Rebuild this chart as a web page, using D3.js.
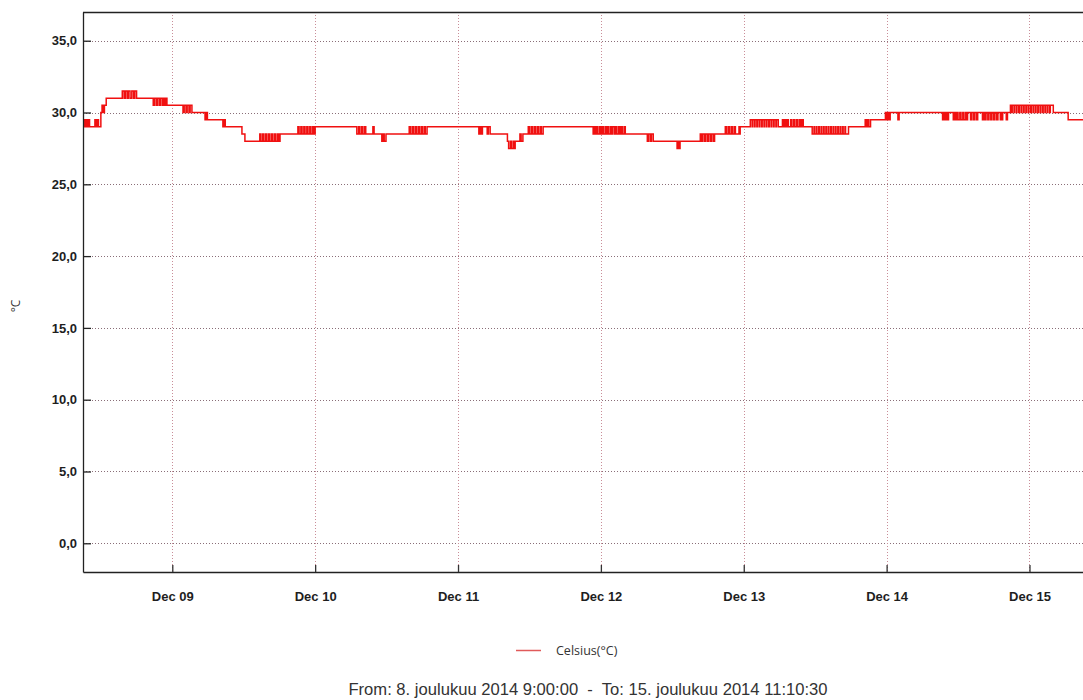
<!DOCTYPE html>
<html>
<head>
<meta charset="utf-8">
<script src="https://cdn.jsdelivr.net/npm/d3@7"></script>
<style>
  html, body { margin: 0; padding: 0; background: #fff; overflow: hidden; }
  svg { display: block; }
</style>
</head>
<body>
<svg id="chart" width="1083" height="700"></svg>
<script>
// Logged period
const startTime = new Date(2014, 11, 8, 9, 0, 0);
const endTime = new Date(2014, 11, 15, 11, 10, 30);

// Temperature readings: [hours since start, °C]; each value holds until the next reading
const readings = [
  [0.0,29.5],[0.3,29.0],[0.5,29.5],[0.7,29.0],[0.9,29.5],[1.1,29.0],
  [2.0,29.5],[2.2,29.0],[2.4,29.5],[2.6,29.0],
  [3.0,30.0],[3.2,30.5],[3.4,30.0],[3.6,30.5],[3.9,31.0],
  [6.6,31.5],[6.9,31.0],[7.1,31.5],[7.4,31.0],[7.6,31.5],[7.9,31.0],[8.2,31.5],[8.5,31.0],[8.7,31.5],[9.0,31.0],
  [11.8,30.5],[12.0,31.0],[12.3,30.5],[12.5,31.0],[12.8,30.5],[13.0,31.0],[13.3,30.5],[13.5,31.0],[13.7,30.5],[13.9,31.0],[14.1,30.5],
  [16.8,30.0],[17.0,30.5],[17.3,30.0],[17.5,30.5],[17.8,30.0],[18.0,30.5],[18.3,30.0],
  [20.5,29.5],[20.7,30.0],[20.9,29.5],
  [23.5,29.0],[23.7,29.5],[23.9,29.0],
  [26.7,28.5],[27.2,28.0],
  [29.7,28.5],[29.9,28.0],[30.2,28.5],[30.4,28.0],[30.7,28.5],[30.9,28.0],[31.2,28.5],[31.4,28.0],[31.7,28.5],[31.9,28.0],[32.2,28.5],[32.4,28.0],[32.7,28.5],[32.9,28.0],[33.1,28.5],
  [36.1,29.0],[36.3,28.5],[36.6,29.0],[36.8,28.5],[37.1,29.0],[37.3,28.5],[37.6,29.0],[37.8,28.5],[38.1,29.0],[38.3,28.5],[38.6,29.0],[38.8,28.5],[39.0,29.0],
  [46.0,28.5],[46.3,29.0],[46.5,28.5],[46.8,29.0],[47.0,28.5],[47.3,29.0],[47.5,28.5],
  [48.7,29.0],[48.9,28.5],
  [50.2,28.0],[50.4,28.5],[50.6,28.0],[50.9,28.5],
  [54.8,29.0],[55.0,28.5],[55.3,29.0],[55.5,28.5],[55.8,29.0],[56.0,28.5],[56.3,29.0],[56.5,28.5],[56.8,29.0],[57.0,28.5],[57.3,29.0],[57.5,28.5],[57.8,29.0],
  [66.5,28.5],[66.7,29.0],[66.9,28.5],[67.1,29.0],
  [67.9,28.5],[68.1,29.0],[68.4,28.5],
  [71.3,28.0],[71.5,27.5],[71.8,28.0],[72.0,27.5],[72.3,28.0],[72.4,27.5],[72.6,28.0],
  [73.4,28.5],[73.6,28.0],[73.9,28.5],
  [74.8,29.0],[75.0,28.5],[75.3,29.0],[75.5,28.5],[75.8,29.0],[76.0,28.5],[76.3,29.0],[76.5,28.5],[76.8,29.0],[77.0,28.5],[77.3,29.0],
  [85.7,28.5],[85.9,29.0],[86.1,28.5],[86.3,29.0],[86.5,28.5],[86.8,29.0],[87.0,28.5],[87.2,29.0],[87.4,28.5],[87.7,29.0],[87.9,28.5],[88.1,29.0],[88.3,28.5],[88.6,29.0],[88.8,28.5],[89.0,29.0],[89.3,28.5],[89.5,29.0],[89.7,28.5],[90.0,29.0],[90.2,28.5],[90.4,29.0],[90.6,28.5],[90.9,29.0],[91.1,28.5],
  [94.8,28.0],[95.0,28.5],[95.3,28.0],[95.5,28.5],[95.8,28.0],
  [99.8,27.5],[100.0,28.0],[100.1,27.5],[100.3,28.0],
  [103.7,28.5],[103.9,28.0],[104.1,28.5],[104.4,28.0],[104.6,28.5],[104.9,28.0],[105.1,28.5],[105.4,28.0],[105.6,28.5],[105.9,28.0],[106.1,28.5],
  [107.9,29.0],[108.1,28.5],[108.4,29.0],[108.6,28.5],[108.9,29.0],[109.1,28.5],[109.4,29.0],[109.6,28.5],[110.2,29.0],[110.3,28.5],[110.4,29.0],
  [112.1,29.5],[112.4,29.0],[112.5,29.5],[112.8,29.0],[112.9,29.5],[113.2,29.0],[113.3,29.5],[113.6,29.0],[113.7,29.5],[114.0,29.0],[114.1,29.5],[114.4,29.0],[114.5,29.5],[114.8,29.0],[114.9,29.5],[115.2,29.0],[115.3,29.5],[115.6,29.0],[115.7,29.5],[116.0,29.0],[116.1,29.5],[116.4,29.0],[116.5,29.5],[116.8,29.0],
  [117.5,29.5],[117.7,29.0],[117.9,29.5],[118.1,29.0],[118.3,29.5],[118.5,29.0],
  [118.9,29.5],[119.1,29.0],[119.4,29.5],[119.6,29.0],[119.9,29.5],[120.1,29.0],[120.4,29.5],[120.6,29.0],[120.8,29.5],[121.0,29.0],
  [122.5,28.5],[122.8,29.0],[122.9,28.5],[123.2,29.0],[123.3,28.5],[123.6,29.0],[123.7,28.5],[124.0,29.0],[124.1,28.5],[124.4,29.0],[124.5,28.5],[124.8,29.0],[124.9,28.5],[125.2,29.0],[125.3,28.5],[125.6,29.0],[125.7,28.5],[126.0,29.0],[126.1,28.5],[126.4,29.0],[126.5,28.5],[126.8,29.0],[126.9,28.5],[127.2,29.0],[127.3,28.5],[127.6,29.0],[127.7,28.5],[128.0,29.0],[128.1,28.5],[128.6,29.0],
  [131.4,29.5],[131.6,29.0],[131.8,29.5],[132.0,29.0],[132.3,29.5],
  [134.8,30.0],[135.0,29.5],[135.2,30.0],[135.4,29.5],[135.6,30.0],[136.9,29.5],[137.1,30.0],
  [144.4,29.5],[144.6,30.0],[144.8,29.5],[145.0,30.0],[145.2,29.5],[145.4,30.0],
  [146.2,29.5],[146.4,30.0],[146.6,29.5],[146.8,30.0],[147.0,29.5],[147.3,30.0],[147.5,29.5],[147.8,30.0],[148.0,29.5],[148.3,30.0],[148.5,29.5],[148.6,30.0],
  [149.1,29.5],[149.3,30.0],[149.6,29.5],[149.8,30.0],[150.1,29.5],[150.3,30.0],
  [151.1,29.5],[151.3,30.0],[151.5,29.5],[151.7,30.0],[152.0,29.5],[152.2,30.0],[152.5,29.5],[152.7,30.0],[153.0,29.5],[153.2,30.0],[153.5,29.5],[153.7,30.0],[154.1,29.5],[154.2,30.0],[154.4,29.5],[154.5,30.0],
  [155.1,29.5],[155.3,30.0],
  [155.8,30.5],[156.0,30.0],[156.1,30.5],[156.4,30.0],[156.5,30.5],[156.8,30.0],[156.9,30.5],[157.2,30.0],[157.3,30.5],[157.6,30.0],[157.7,30.5],[158.0,30.0],[158.1,30.5],[158.4,30.0],[158.5,30.5],[158.8,30.0],[158.9,30.5],[159.2,30.0],[159.3,30.5],[159.6,30.0],[159.7,30.5],[160.0,30.0],[160.1,30.5],[160.4,30.0],[160.5,30.5],[160.8,30.0],[160.9,30.5],[161.2,30.0],[161.3,30.5],[161.6,30.0],[161.7,30.5],[162.0,30.0],[162.1,30.5],[162.4,30.0],[162.5,30.5],[163.0,30.0],
  [165.5,29.5],[170.175,29.5]
];

// Axis ticks
const yTicks = [0, 5, 10, 15, 20, 25, 30, 35];
const dayTicks = [
  new Date(2014, 11, 9), new Date(2014, 11, 10), new Date(2014, 11, 11),
  new Date(2014, 11, 12), new Date(2014, 11, 13), new Date(2014, 11, 14),
  new Date(2014, 11, 15)
];
const dayLabels = ["Dec 09", "Dec 10", "Dec 11", "Dec 12", "Dec 13", "Dec 14", "Dec 15"];

const seriesName = "Celsius(°C)";
const yTitle = "°C";
const footer = "From: 8. joulukuu 2014 9:00:00  -  To: 15. joulukuu 2014 11:10:30";

// Layout
const plot = { left: 83, top: 12, right: 1096, bottom: 572 };

const svg = d3.select("#chart");

const x = d3.scaleTime().domain([startTime, endTime]).range([plot.left, plot.right]);
const y = d3.scaleLinear().domain([-2, 37]).range([plot.bottom, plot.top]);

const series = readings.map(([h, v]) => ({ t: new Date(startTime.getTime() + h * 3600000), v }));

svg.append("defs").append("clipPath").attr("id", "plotClip")
  .append("rect")
  .attr("x", plot.left).attr("y", plot.top)
  .attr("width", plot.right - plot.left).attr("height", plot.bottom - plot.top);

// Horizontal grid
svg.append("g").selectAll("line").data(yTicks).join("line")
  .attr("x1", plot.left).attr("x2", plot.right)
  .attr("y1", d => Math.round(y(d)) + 0.5).attr("y2", d => Math.round(y(d)) + 0.5)
  .attr("stroke", "#8a6e78").attr("stroke-width", 1)
  .attr("stroke-dasharray", "1,2");

// Vertical grid
svg.append("g").selectAll("line").data(dayTicks).join("line")
  .attr("x1", d => Math.round(x(d)) + 0.5).attr("x2", d => Math.round(x(d)) + 0.5)
  .attr("y1", plot.top).attr("y2", plot.bottom)
  .attr("stroke", "#c98d98").attr("stroke-width", 1)
  .attr("stroke-dasharray", "1,2");

// Temperature trace
svg.append("path")
  .datum(series)
  .attr("clip-path", "url(#plotClip)")
  .attr("fill", "none")
  .attr("stroke", "#f01010")
  .attr("stroke-width", 1.5)
  .attr("d", d3.line().x(d => x(d.t)).y(d => y(d.v)).curve(d3.curveStepAfter));

// Frame
svg.append("line")
  .attr("x1", plot.left).attr("x2", plot.right + 5)
  .attr("y1", plot.top + 0.5).attr("y2", plot.top + 0.5)
  .attr("stroke", "#222").attr("stroke-width", 1.3);

// Y axis (ticks point into the plot)
const yAxis = svg.append("g")
  .attr("transform", `translate(${plot.left},0)`)
  .call(d3.axisLeft(y).tickValues(yTicks).tickSizeInner(-8).tickSizeOuter(0).tickPadding(6)
    .tickFormat(d => d3.format(".1f")(d).replace(".", ",")));
yAxis.select(".domain").attr("stroke", "#222").attr("stroke-width", 1.3);
yAxis.selectAll(".tick line").attr("stroke", "#222").attr("stroke-width", 1.3);
yAxis.selectAll(".tick text")
  .attr("fill", "#1e1e1e")
  .style("font-family", "'Liberation Sans', Arial, sans-serif")
  .style("font-size", "13px").style("font-weight", "bold");

// X axis
const xAxis = svg.append("g")
  .attr("transform", `translate(0,${plot.bottom})`)
  .call(d3.axisBottom(x).tickValues(dayTicks).tickSizeInner(-7).tickSizeOuter(0).tickPadding(20)
    .tickFormat((d, i) => dayLabels[i]));
xAxis.select(".domain").attr("stroke", "#222").attr("stroke-width", 1.3);
xAxis.selectAll(".tick line").attr("stroke", "#333").attr("stroke-width", 1.3);
xAxis.selectAll(".tick text")
  .attr("fill", "#1e1e1e")
  .style("font-family", "'Liberation Sans', Arial, sans-serif")
  .style("font-size", "13px").style("font-weight", "bold");

// Y axis title
svg.append("text")
  .attr("transform", "translate(20,306) rotate(-90)")
  .attr("text-anchor", "middle")
  .attr("fill", "#333")
  .style("font-family", "'Open Sans', sans-serif")
  .style("font-size", "12px")
  .text(yTitle);

// Legend
const legend = svg.append("g").attr("transform", "translate(516,650)");
legend.append("line").attr("x1", 0).attr("x2", 25).attr("y1", 0.5).attr("y2", 0.5)
  .attr("stroke", "#e05a5a").attr("stroke-width", 1.5);
legend.append("text").attr("x", 40).attr("y", 4.5)
  .attr("fill", "#333")
  .style("font-family", "'Open Sans', sans-serif")
  .style("font-size", "12.5px")
  .text(seriesName);

// Period caption
svg.append("text")
  .attr("x", 588).attr("y", 695)
  .attr("text-anchor", "middle")
  .attr("fill", "#333")
  .style("font-family", "'Liberation Sans', Arial, sans-serif")
  .style("font-size", "16.6px")
  .style("white-space", "pre")
  .text(footer);
</script>
</body>
</html>
